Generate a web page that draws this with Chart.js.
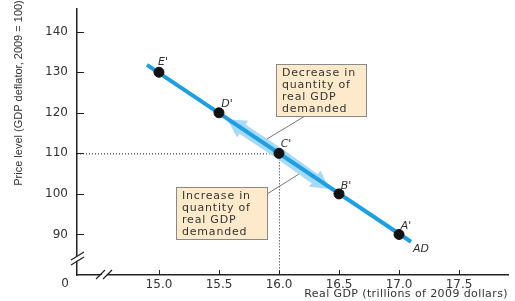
<!DOCTYPE html>
<html>
<head>
<meta charset="utf-8">
<script src="https://cdn.jsdelivr.net/npm/chart.js@4.4.1/dist/chart.umd.min.js"></script>
<style>
  html, body { margin: 0; padding: 0; background: #fff; }
  #wrap { width: 515px; height: 301px; }
</style>
</head>
<body>
<div id="wrap"><canvas id="adChart"></canvas></div>
<script>
// points on the AD curve
const pointNames = ["E'", "D'", "C'", "B'", "A'"];
const gdpValues = [15.0, 15.5, 16.0, 16.5, 17.0];
const priceValues = [130, 120, 110, 100, 90];

// ends of the AD line
const lineGdp = [14.9, 17.1];
const linePrice = [131.8, 88.2];

// tick labels
const xTicks = [15.0, 15.5, 16.0, 16.5, 17.0, 17.5];
const yTicks = [90, 100, 110, 120, 130, 140];

const decreaseText = ["Decrease in", "quantity of", "real GDP", "demanded"];
const increaseText = ["Increase in", "quantity of", "real GDP", "demanded"];

const textFont = '"DejaVu Sans", sans-serif';

function drawArrow(ctx, x0, y0, x1, y1, half, headHalf, headLen) {
    const dx = x1 - x0, dy = y1 - y0;
    const len = Math.sqrt(dx * dx + dy * dy);
    const ux = dx / len, uy = dy / len;
    const nx = -uy, ny = ux;
    const bx = x1 - ux * headLen, by = y1 - uy * headLen;
    ctx.beginPath();
    ctx.moveTo(x0 + nx * half, y0 + ny * half);
    ctx.lineTo(bx + nx * half, by + ny * half);
    ctx.lineTo(bx + nx * headHalf, by + ny * headHalf);
    ctx.lineTo(x1, y1);
    ctx.lineTo(bx - nx * headHalf, by - ny * headHalf);
    ctx.lineTo(bx - nx * half, by - ny * half);
    ctx.lineTo(x0 - nx * half, y0 - ny * half);
    ctx.closePath();
    ctx.fill();
}

function drawBox(ctx, x, y, w, h, lines) {
    ctx.fillStyle = '#fdeacb';
    ctx.strokeStyle = '#8a8a8a';
    ctx.lineWidth = 1;
    ctx.fillRect(x, y, w, h);
    ctx.strokeRect(x + 0.5, y + 0.5, w, h);
    ctx.fillStyle = '#333';
    ctx.font = '11px ' + textFont;
    ctx.letterSpacing = '0.8px';
    ctx.textAlign = 'left';
    ctx.textBaseline = 'middle';
    lines.forEach((t, i) => ctx.fillText(t, x + 6, y + 9 + i * 12));
    ctx.letterSpacing = '0px';
}

const backPlugin = {
    id: 'backPlugin',
    beforeDatasetsDraw(chart) {
        const ctx = chart.ctx;
        const xs = chart.scales.x, ys = chart.scales.y;
        const cx = xs.getPixelForValue(gdpValues[2]);
        const cy = ys.getPixelForValue(priceValues[2]);
        ctx.save();
        // dotted guides to C'
        ctx.strokeStyle = '#222';
        ctx.lineWidth = 1;
        ctx.setLineDash([1, 2]);
        ctx.beginPath();
        ctx.moveTo(xs.left, cy + 0.5);
        ctx.lineTo(cx, cy + 0.5);
        ctx.moveTo(cx + 0.5, cy);
        ctx.lineTo(cx + 0.5, ys.bottom);
        ctx.stroke();
        ctx.setLineDash([]);
        // movement arrows along the curve
        ctx.fillStyle = '#a6daf6';
        drawArrow(ctx, cx, cy, xs.getPixelForValue(15.57), ys.getPixelForValue(118.4), 5.5, 10, 18);
        drawArrow(ctx, cx, cy, xs.getPixelForValue(16.42), ys.getPixelForValue(101.2), 5.5, 10, 18);
        ctx.restore();
    },
    afterDraw(chart) {
        const ctx = chart.ctx;
        const xs = chart.scales.x, ys = chart.scales.y;
        const left = xs.left, bottom = ys.bottom;
        ctx.save();
        // inner tick marks
        ctx.strokeStyle = '#222';
        ctx.lineWidth = 1;
        ctx.beginPath();
        yTicks.forEach(v => {
            const p = Math.round(ys.getPixelForValue(v)) + 0.5;
            ctx.moveTo(left, p);
            ctx.lineTo(left + 7, p);
        });
        xTicks.forEach(v => {
            const p = Math.round(xs.getPixelForValue(v)) + 0.5;
            ctx.moveTo(p, bottom);
            ctx.lineTo(p, bottom - 5);
        });
        ctx.stroke();

        // axis breaks
        ctx.fillStyle = '#fff';
        ctx.beginPath();
        ctx.moveTo(70, 261); ctx.lineTo(84, 252); ctx.lineTo(84, 256); ctx.lineTo(70, 265);
        ctx.fill();
        ctx.beginPath();
        ctx.moveTo(97, 280); ctx.lineTo(106, 270); ctx.lineTo(112, 270); ctx.lineTo(103, 280);
        ctx.fill();
        ctx.strokeStyle = '#222';
        ctx.lineWidth = 1.2;
        ctx.beginPath();
        ctx.moveTo(71, 260); ctx.lineTo(84, 252);
        ctx.moveTo(71, 265); ctx.lineTo(84, 257);
        ctx.moveTo(96, 279); ctx.lineTo(105, 270);
        ctx.moveTo(103, 279); ctx.lineTo(112, 270);
        ctx.stroke();

        // origin label
        ctx.fillStyle = '#333';
        ctx.font = '12px ' + textFont;
        ctx.textAlign = 'center';
        ctx.textBaseline = 'middle';
        ctx.fillText('0', 65, 284);

        // axis titles
        ctx.font = '11px ' + textFont;
        ctx.letterSpacing = '0.4px';
        ctx.textAlign = 'right';
        ctx.fillText('Real GDP (trillions of 2009 dollars)', 508, 294);
        ctx.letterSpacing = '0px';
        ctx.save();
        ctx.translate(19, 93);
        ctx.rotate(-Math.PI / 2);
        ctx.font = '11px "Liberation Sans Narrow", "Liberation Sans", sans-serif';
        ctx.textAlign = 'center';
        ctx.fillText('Price level (GDP deflator, 2009 = 100)', 0, 0);
        ctx.restore();

        // point labels
        const offs = [[4, -10], [8, -9], [7, -9], [7, -8], [7, -8]];
        ctx.font = 'italic 11px ' + textFont;
        ctx.textAlign = 'center';
        pointNames.forEach((n, i) => {
            const px = xs.getPixelForValue(gdpValues[i]);
            const py = ys.getPixelForValue(priceValues[i]);
            ctx.fillText(n, px + offs[i][0], py + offs[i][1]);
        });
        ctx.fillText('AD', xs.getPixelForValue(lineGdp[1]) + 10, ys.getPixelForValue(linePrice[1]) + 7);

        // leader lines and boxes
        ctx.strokeStyle = '#777';
        ctx.lineWidth = 1;
        ctx.beginPath();
        ctx.moveTo(305, 116); ctx.lineTo(267, 139);
        ctx.moveTo(267, 194); ctx.lineTo(299, 174);
        ctx.stroke();
        drawBox(ctx, 276, 64, 90, 52, decreaseText);
        drawBox(ctx, 176, 187, 91, 52, increaseText);
        ctx.restore();
    }
};

const ctx = document.getElementById('adChart').getContext('2d');
const myChart = new Chart(ctx, {
    type: 'scatter',
    data: {
        datasets: [{
            data: lineGdp.map((v, i) => ({ x: v, y: linePrice[i] })),
            showLine: true,
            borderColor: '#1e9fe3',
            borderWidth: 4,
            pointRadius: 0,
            order: 2
        }, {
            data: gdpValues.map((v, i) => ({ x: v, y: priceValues[i] })),
            backgroundColor: '#111',
            borderColor: '#111',
            pointRadius: 5,
            pointHoverRadius: 5,
            order: 1
        }]
    },
    options: {
        responsive: true,
        maintainAspectRatio: false,
        animation: false,
        events: [],
        layout: {
            padding: { top: 9, right: 7, left: 0, bottom: 0 }
        },
        scales: {
            x: {
                type: 'linear',
                min: 14.317,
                max: 17.908,
                afterBuildTicks: (s) => { s.ticks = xTicks.map(v => ({ value: v })); },
                afterFit: (s) => { s.height = 26; s.paddingLeft = 0; s.paddingRight = 0; },
                grid: { display: false, drawTicks: false },
                border: { display: true, color: '#222', width: 1.5 },
                ticks: {
                    padding: 3,
                    color: '#333',
                    font: { family: 'DejaVu Sans', size: 12 },
                    callback: (v) => Number(v).toFixed(1)
                }
            },
            y: {
                type: 'linear',
                min: 80,
                max: 145.6,
                afterBuildTicks: (s) => { s.ticks = yTicks.map(v => ({ value: v })); },
                afterFit: (s) => { s.width = 77; s.paddingTop = 0; s.paddingBottom = 0; },
                grid: { display: false, drawTicks: false },
                border: { display: true, color: '#222', width: 1.5 },
                ticks: {
                    padding: 9,
                    color: '#333',
                    font: { family: 'DejaVu Sans', size: 12 }
                }
            }
        },
        plugins: {
            legend: { display: false },
            tooltip: { enabled: false }
        }
    },
    plugins: [backPlugin]
});
</script>
</body>
</html>
